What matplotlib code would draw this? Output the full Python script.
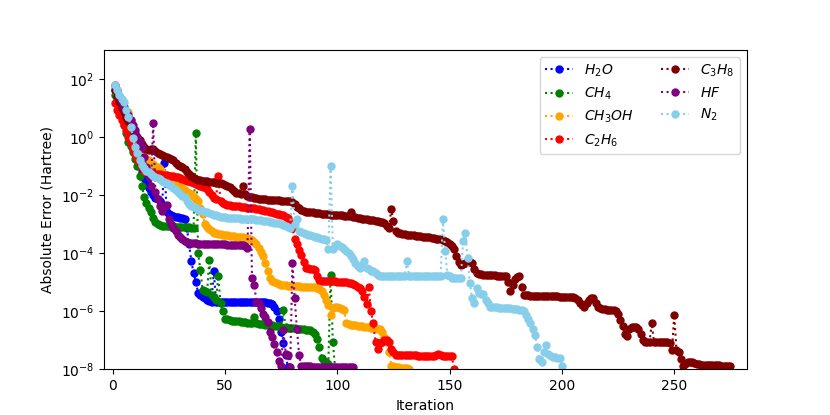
import numpy as np
import matplotlib
matplotlib.use("Agg")
import matplotlib.pyplot as plt

# log10 of absolute error per iteration (iteration starts at 1)
h2o = [1.6, 1.35, 1.1, 0.85, 0.6, 0.35, 0.1, -0.15, -0.4, -0.6,
       -0.8, -1.0, -1.2, -1.4, -1.6, -1.75, -1.9, -2.0, -2.1, -2.15,
       -2.2, -2.3, -0.9, -2.6, -2.66, -2.7, -2.72, -2.74, -2.76, -2.78,
       -2.8, -2.83, -3.12, -3.7, -4.28, -4.69, -4.98, -5.38, -5.45, -5.5,
       -5.55, -5.6, -5.64, -5.67, -4.63, -5.67, -5.67, -5.67, -5.67, -5.67,
       -5.67, -5.67, -5.67, -5.67, -5.67, -5.68, -5.68, -5.68, -5.68, -5.68,
       -5.68, -5.68, -5.68, -5.68, -5.68, -5.68, -5.69, -5.69, -5.7, -5.72,
       -5.76, -5.85, -6.0, -6.25, -6.7, -7.1, -7.5, -7.93]

ch4 = [1.45, 1.2, 0.95, 0.69, 0.4, 0.15, -0.17, -0.3, -0.52, -0.75,
       -1.0, -1.35, -1.68, -2.08, -2.26, -2.45, -2.6, -2.8, -2.92, -3.0,
       -3.03, -3.05, -3.06, -3.07, -3.07, -3.08, -3.08, -3.09, -3.09, -3.1,
       -3.1, -3.1, -3.11, -3.11, -3.12, -3.13, 0.12, -3.99, -4.57, -5.26,
       -5.3, -5.35, -4.22, -5.44, -5.5, -5.6, -4.8, -5.73, -6.0, -6.25,
       -6.28, -6.31, -6.32, -6.33, -6.34, -6.35, -6.36, -6.37, -6.38, -6.39,
       -6.4, -6.41, -6.19, -6.42, -6.43, -6.44, -6.45, -6.46, -6.47, -6.48,
       -6.49, -6.5, -6.51, -6.52, -6.53, -5.96, -6.55, -6.56, -6.57, -6.58,
       -6.59, -6.6, -6.61, -6.62, -6.62, -6.63, -6.64, -6.65, -6.7, -6.8,
       -6.94, -7.23, -7.6, -7.7, -7.75, -7.8, -4.74, -7.06, -7.95]

ch3oh = [1.7, 1.5, 1.3, 1.15, 1.0, 0.9, 0.85, 0.6, 0.3, 0.0,
         -0.25, -0.45, -0.6, -0.7, -0.76, -0.81, -0.88, -0.94, -1.0, -1.04,
         -1.1, -1.2, -1.28, -1.36, -1.43, -1.5, -1.56, -1.62, -1.68, -1.72,
         -1.76, -1.82, -1.88, -1.93, -1.97, -2.05, -2.12, -2.2, -2.45, -2.66,
         -3.01, -3.1, -3.18, -3.25, -3.3, -3.32, -3.34, -3.35, -3.37, -3.38,
         -3.39, -3.4, -3.41, -3.42, -3.43, -3.44, -3.45, -3.46, -3.47, -3.48,
         -3.5, -3.55, -3.62, -3.7, -3.82, -3.95, -4.1, -4.35, -4.6, -4.86,
         -4.95, -5.0, -5.03, -5.06, -5.09, -5.1, -5.11, -5.12, -5.12, -5.13,
         -5.13, -5.14, -5.14, -5.15, -5.15, -5.16, -5.16, -5.17, -5.17, -5.18,
         -5.2, -5.25, -5.32, -5.44, -5.6, -5.78, -6.13, -5.9, -5.84, -5.86,
         -5.9, -5.93, -5.96, -6.42, -6.45, -6.47, -6.48, -6.49, -6.5, -6.51,
         -6.52, -6.53, -6.54, -6.55, -6.56, -6.57, -6.58, -6.6, -6.62, -6.7,
         -6.9, -7.06, -7.4, -7.87, -7.9, -7.92, -7.93, -7.94, -7.95, -7.96,
         -7.97, -7.98]

c2h6 = [1.16, 0.93, 0.75, 0.58, 0.4, 0.23, 0.0, -0.2, -0.4, -0.6,
        -0.75, -0.9, -1.05, -1.16, -1.18, -1.2, -1.22, -1.24, -1.26, -1.27,
        -1.28, -1.3, -1.31, -1.32, -1.33, -1.35, -1.36, -1.37, -1.39, -1.42,
        -1.45, -1.48, -1.5, -1.53, -1.56, -1.6, -1.63, -1.66, -1.69, -1.72,
        -1.74, -1.8, -1.9, -2.0, -2.1, -2.14, -1.33, -2.2, -2.27, -2.31,
        -2.33, -2.35, -2.36, -2.37, -2.38, -2.39, -2.4, -2.41, -2.42, -2.43,
        -2.44, -2.45, -2.46, -2.47, -2.49, -2.5, -2.52, -2.54, -2.56, -2.58,
        -2.6, -2.62, -2.64, -2.66, -2.68, -2.7, -2.74, -2.78, -2.95, -3.12,
        -3.5, -3.7, -3.9, -4.05, -4.3, -4.51, -4.52, -4.53, -4.55, -4.57,
        -4.8, -4.92, -4.95, -4.95, -4.96, -4.96, -4.97, -4.97, -4.97, -4.98,
        -4.98, -4.98, -4.99, -5.0, -5.02, -5.04, -5.06, -5.09, -5.15, -5.2,
        -5.32, -5.5, -5.75, -5.15, -6.0, -6.42, -7.06, -7.29, -7.1, -7.05,
        -7.0, -7.0, -7.06, -7.3, -7.4, -7.52, -7.52, -7.52, -7.52, -7.52,
        -7.52, -7.52, -7.52, -7.52, -7.52, -7.53, -7.53, -7.53, -7.53, -7.53,
        -7.53, -7.53, -7.53, -7.5, -7.46, -7.52, -7.53, -7.53, -7.54, -7.54,
        -7.55, -8.0]

c3h8 = [1.6, 1.4, 1.2, 1.0, 0.85, 0.7, 0.55, 0.4, 0.28, 0.12,
        0.0, -0.12, -0.25, -0.35, -0.42, -0.46, -0.42, -0.4, -0.48, -0.54,
        -0.58, -0.62, -0.66, -0.7, -0.73, -0.76, -0.81, -0.88, -0.95, -1.0,
        -1.05, -1.12, -1.2, -1.28, -1.35, -1.4, -1.44, -1.47, -1.49, -1.5,
        -1.51, -1.53, -1.54, -1.55, -1.56, -1.57, -1.58, -1.6, -1.62, -1.65,
        -1.68, -1.72, -1.8, -1.87, -1.92, -1.94, -1.96, -1.7, -1.98, -2.02,
        -2.05, -2.07, -2.09, -2.11, -2.13, -2.14, -2.15, -2.15, -2.16, -2.16,
        -2.17, -2.17, -2.18, -2.18, -2.19, -2.19, -2.2, -2.2, -2.22, -2.24,
        -2.3, -2.4, -2.45, -2.52, -2.56, -2.57, -2.58, -2.59, -2.6, -2.61,
        -2.62, -2.63, -2.64, -2.65, -2.66, -2.66, -2.67, -2.67, -2.68, -2.68,
        -2.69, -2.7, -2.71, -2.72, -2.72, -2.6, -2.74, -2.75, -2.78, -2.8,
        -2.82, -2.83, -2.84, -2.85, -2.86, -2.87, -2.88, -2.9, -2.92, -2.94,
        -2.95, -3.05, -3.12, -2.49, -2.89, -3.24, -3.3, -3.32, -3.34, -3.35,
        -3.36, -3.37, -3.38, -3.39, -3.4, -3.41, -3.42, -3.43, -3.44, -3.45,
        -3.46, -3.47, -3.48, -3.5, -3.52, -3.53, -3.55, -3.58, -3.62, -3.68,
        -3.75, -3.85, -4.1, -4.3, -4.42, -4.38, -4.34, -4.3, -4.3, -4.34,
        -4.55, -4.69, -4.72, -4.73, -4.74, -4.74, -4.75, -4.75, -4.76, -4.76,
        -4.77, -4.77, -4.78, -4.79, -4.8, -5.0, -5.3, -5.1, -4.9, -4.82,
        -4.8, -5.15, -5.44, -5.45, -5.45, -5.46, -5.46, -5.47, -5.47, -5.47,
        -5.48, -5.48, -5.48, -5.48, -5.49, -5.49, -5.49, -5.49, -5.5, -5.5,
        -5.5, -5.5, -5.5, -5.5, -5.5, -5.55, -5.6, -5.7, -5.8, -5.84,
        -5.7, -5.6, -5.55, -5.55, -5.7, -5.85, -5.9, -5.92, -5.93, -5.94,
        -5.95, -5.96, -5.97, -6.0, -6.1, -6.3, -6.5, -6.8, -6.85, -6.6,
        -6.54, -6.54, -6.55, -6.6, -6.8, -7.0, -7.05, -7.05, -7.05, -6.42,
        -7.05, -7.05, -7.06, -7.06, -7.06, -7.07, -7.07, -7.08, -7.35, -6.13,
        -7.35, -7.4, -7.64, -7.87, -7.8, -7.76, -7.75, -7.75, -7.78, -7.82,
        -7.83, -7.84, -7.84, -7.85, -7.85, -7.85, -7.86, -7.86, -7.86, -7.86,
        -7.87, -7.87, -7.87, -7.87, -7.87]

hf = [1.8, 1.6, 1.4, 1.2, 1.04, 0.9, 0.75, 0.58, 0.4, 0.23,
      0.0, -0.18, -0.35, -0.7, -1.04, -1.39, -1.68, 0.47, -1.91, -2.14,
      -2.37, -2.55, -2.38, -2.34, -2.83, -3.0, -3.12, -3.25, -3.36, -3.45,
      -3.52, -3.59, -3.62, -3.64, -3.65, -3.66, -3.66, -3.67, -3.67, -3.68,
      -3.68, -3.68, -3.69, -3.69, -3.69, -3.7, -3.7, -3.7, -3.7, -3.7,
      -3.71, -3.71, -3.71, -3.71, -3.72, -3.72, -3.72, -3.73, -3.75, -3.82,
      0.29, -4.86, -5.09, -5.67, -5.73, -5.9, -6.08, -6.2, -6.36, -6.71,
      -6.9, -7.12, -7.4, -7.7, -7.87, -6.65, -7.46, -7.5, -7.93, -4.34,
      -5.55, -6.6, -7.52, -7.87, -7.9, -7.9, -7.9, -7.9, -7.91, -7.91,
      -7.91, -7.91, -7.91, -7.92, -7.92, -7.92, -7.92, -7.92, -7.92, -7.93,
      -7.93, -7.93, -7.93, -7.93, -7.93, -7.93, -7.93]

n2 = [1.8, 1.6, 1.45, 1.3, 1.2, 0.93, 0.69, 0.35, -0.05, -0.35,
      -0.55, -0.8, -0.98, -1.08, -1.16, -1.22, -1.28, -1.33, -1.37, -1.42,
      -1.46, -1.5, -1.55, -1.6, -1.64, -1.68, -1.75, -1.82, -1.9, -1.97,
      -2.03, -2.08, -2.2, -2.3, -2.36, -2.42, -2.46, -2.5, -2.52, -2.54,
      -2.57, -2.6, -2.63, -2.66, -2.68, -2.7, -2.72, -2.74, -2.76, -2.77,
      -2.78, -2.78, -2.79, -2.79, -2.8, -2.8, -2.81, -2.81, -2.82, -2.82,
      -2.83, -2.83, -2.84, -2.85, -2.86, -2.87, -2.88, -2.89, -2.9, -2.92,
      -2.94, -2.95, -2.96, -2.97, -3.0, -3.03, -3.06, -3.09, -3.12, -1.7,
      -3.0, -2.83, -3.24, -3.28, -3.3, -3.33, -3.36, -3.38, -3.41, -3.44,
      -3.46, -3.48, -3.5, -3.52, -3.55, -3.86, -1.0, -3.86, -3.75, -3.69,
      -3.75, -3.8, -3.86, -3.93, -4.0, -4.1, -4.2, -4.35, -4.45, -4.5,
      -4.4, -4.28, -4.5, -4.55, -4.6, -4.63, -4.7, -4.75, -4.8, -4.8,
      -4.8, -4.8, -4.8, -4.8, -4.8, -4.8, -4.8, -4.8, -4.8, -4.8,
      -4.28, -4.8, -4.8, -4.8, -4.8, -4.8, -4.8, -4.8, -4.8, -4.8,
      -4.8, -4.8, -4.8, -4.8, -4.8, -4.8, -2.83, -3.93, -4.74, -4.8,
      -4.86, -4.86, -4.86, -4.86, -4.86, -3.59, -3.3, -4.17, -5.03, -5.55,
      -5.73, -5.2, -5.38, -5.4, -5.4, -5.6, -5.73, -5.84, -5.86, -5.87,
      -5.87, -5.88, -5.88, -5.89, -5.89, -5.9, -5.9, -5.91, -5.92, -5.93,
      -5.94, -5.95, -6.0, -6.13, -6.25, -6.42, -6.6, -6.82, -7.23, -7.64,
      -7.75, -7.4, -7.17, -7.46, -7.55, -7.57, -7.59, -7.6, -7.62, -7.9]

labels = ["$H_2O$", "$CH_4$", "$CH_3OH$", "$C_2H_6$", "$C_3H_8$", "$HF$", "$N_2$"]
colors = ["blue", "green", "orange", "red", "maroon", "purple", "skyblue"]
series = [h2o, ch4, ch3oh, c2h6, c3h8, hf, n2]

fig, ax = plt.subplots(figsize=(8.3, 4.15), dpi=100)
for vals, lab, col in zip(series, labels, colors):
    it = np.arange(1, len(vals) + 1)
    ax.plot(it, 10.0 ** np.array(vals), linestyle=":", marker="o",
            color=col, label=lab, markersize=5)

ax.set_yscale("log")
ax.set_ylim(1e-8, 1e3)
ax.set_xlim(-4, 282.4)
ax.set_xlabel("Iteration")
ax.set_ylabel("Absolute Error (Hartree)")
ax.legend(ncol=2, loc="upper right")
fig.savefig("out.png", dpi=100)
